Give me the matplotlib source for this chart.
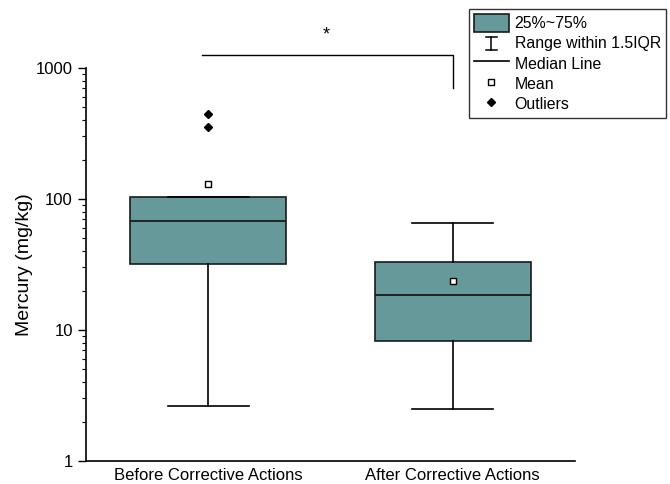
import matplotlib
matplotlib.use("Agg")
import matplotlib.pyplot as plt
from matplotlib.lines import Line2D
from matplotlib.patches import Patch
from matplotlib.legend_handler import HandlerBase

plt.rcParams['font.family'] = ['Liberation Sans', 'DejaVu Sans']

categories = ["Before Corrective Actions", "After Corrective Actions"]
q1 = [32.1, 8.2]
median = [68.3, 18.5]
q3 = [104.0, 33.2]
whislo = [2.64, 2.48]
whishi = [104.0, 65.9]
means = [129.5, 23.5]
outliers = [[443.0, 352.0], []]

box_color = "#669999"

fig = plt.figure(figsize=(6.7, 4.84), dpi=100)
ax = fig.add_axes([86/670, 23/484, (575-86)/670, (461-68)/484])

stats = []
for i in range(len(categories)):
    stats.append(dict(label=categories[i], q1=q1[i], med=median[i], q3=q3[i],
                      whislo=whislo[i], whishi=whishi[i], mean=means[i],
                      fliers=outliers[i]))

ax.bxp(stats, positions=[1, 2], widths=0.64, patch_artist=True, showmeans=True,
       boxprops=dict(facecolor=box_color, edgecolor="#1a1a1a", linewidth=1.2),
       medianprops=dict(color="#1a1a1a", linewidth=1.3),
       whiskerprops=dict(color="black", linewidth=1.2),
       capprops=dict(color="black", linewidth=1.2),
       capwidths=0.33,
       meanprops=dict(marker="s", markerfacecolor="white", markeredgecolor="black",
                      markersize=3.8, markeredgewidth=1.0),
       flierprops=dict(marker="D", markerfacecolor="black", markeredgecolor="black",
                       markersize=4.5))

ax.set_yscale("log")
ax.set_ylim(1, 1000)
ax.set_xlim(0.5, 2.5)
ax.set_yticks([1, 10, 100, 1000])
ax.set_yticklabels(["1", "10", "100", "1000"])
ax.tick_params(axis="y", which="major", length=6, width=1.0, labelsize=12, direction="out")
ax.tick_params(axis="y", which="minor", length=3, width=0.8, direction="out")
ax.tick_params(axis="x", length=0, labelsize=12, pad=5)
ax.set_xticks([1, 2])
ax.set_xticklabels(categories)
ax.spines["top"].set_visible(False)
ax.spines["right"].set_visible(False)
ax.spines["left"].set_linewidth(1.2)
ax.spines["bottom"].set_linewidth(1.2)
ax.set_ylabel("Mercury (mg/kg)", fontsize=14, labelpad=2)

# significance bracket
ax.plot([0.975, 2, 2], [1257, 1257, 704], color="black", linewidth=1.0, clip_on=False)
ax.text(1.484, 1780, "*", ha="center", va="center", fontsize=13, clip_on=False)


class IBarHandle:
    pass


class IBarHandler(HandlerBase):
    def create_artists(self, legend, orig_handle, xdescent, ydescent, width, height,
                       fontsize, trans):
        cx = width / 2 - xdescent
        cy = height / 2 - ydescent
        hh, hw = 4.7, 3.9
        kw = dict(color="black", linewidth=1.1, transform=trans)
        return [
            Line2D([cx, cx], [cy - hh, cy + hh], **kw),
            Line2D([cx - hw, cx + hw], [cy + hh, cy + hh], **kw),
            Line2D([cx - hw, cx + hw], [cy - hh, cy - hh], **kw),
        ]


handles = [
    Patch(facecolor=box_color, edgecolor="#1a1a1a", linewidth=1.2),
    IBarHandle(),
    Line2D([], [], color="black", linewidth=1.2),
    Line2D([], [], linestyle="none", marker="s", markerfacecolor="white",
           markeredgecolor="black", markersize=3.8),
    Line2D([], [], linestyle="none", marker="D", markerfacecolor="black",
           markeredgecolor="black", markersize=4.5),
]
labels = ["25%~75%", "Range within 1.5IQR", "Median Line", "Mean", "Outliers"]
leg = fig.legend(handles, labels, loc="upper left", bbox_to_anchor=(469/670, 1 - 9/484),
                 fontsize=11.4, frameon=True, fancybox=False, shadow=False,
                 handlelength=2.2, handleheight=1.43, handletextpad=0.38,
                 labelspacing=0.1, borderpad=0.3, borderaxespad=0.0,
                 handler_map={IBarHandle: IBarHandler()})
leg.get_frame().set_edgecolor("black")
leg.get_frame().set_linewidth(1.0)

fig.savefig("out.png", dpi=100)
